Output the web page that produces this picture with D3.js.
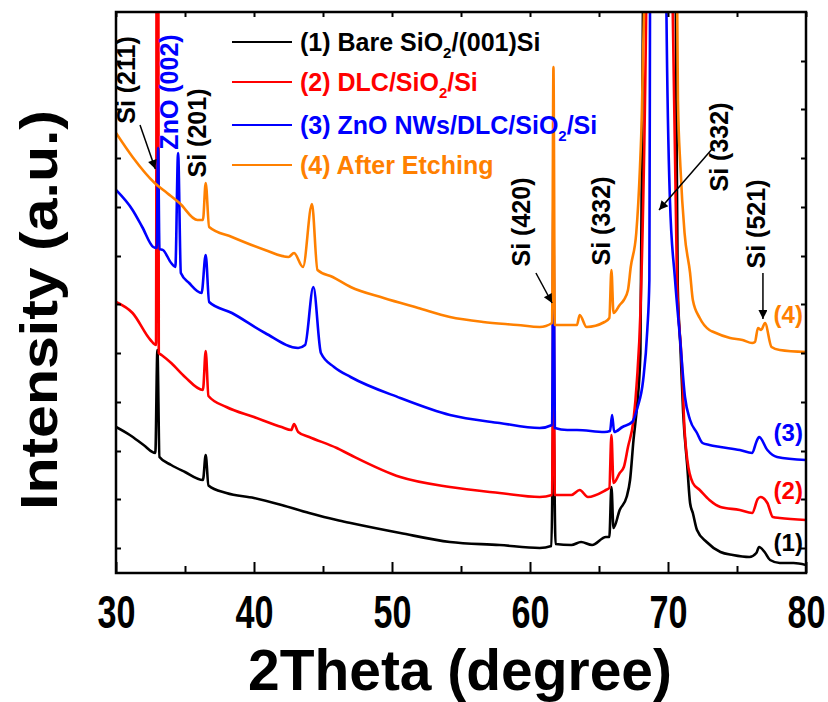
<!DOCTYPE html>
<html lang="en">
<head>
<meta charset="UTF-8" />
<title>XRD patterns</title>
<script src="https://d3js.org/d3.v7.min.js"></script>
<style>
    body { margin: 0; background: #fff; }
    text { font-family: "Liberation Sans", Arial, sans-serif; font-weight: bold; }
    .tick line { stroke: #000; stroke-width: 2px; }
    .trace { fill: none; stroke-width: 2.6px; stroke-linejoin: round; }
</style>
</head>
<body>
<script>
    // ---- data: [2theta, intensity (a.u.)] ----
    const bare = [
        [30,292],[31,276],[32,256],[32.85,240],[33,446],[33.15,232],[34,216],[35,202],[36.3,186],[36.5,236],[36.7,175],
        [38,160],[40,150],[42,136],[44,120],[46,106],[47,100],[50.6,80],[54.2,62],[57.8,56],[60.7,50],[61.55,54],[61.7,306],
        [61.85,58],[63,56],[63.7,62],[64.5,56],[65.5,72],[65.75,72],[65.9,172],[66.05,90],[66.5,126],[67,152],[67.25,186],
        [67.5,266],[67.75,332],[68,440],[68.2,1200],[69.3,6000],[70.55,1200],[70.7,580],[70.9,452],[71.1,320],[71.4,212],
        [71.6,140],[71.8,120],[72.1,86],[72.8,62],[73.8,42],[74.7,36],[75.9,32],[76.4,40],[76.6,52],[77,42],[77.4,26],
        [78.1,20],[79.1,20],[80,16]
    ];
    const dlc = [
        [30,542],[31.2,520],[32.5,466],[32.9,456],[33,3000],[33.1,440],[33.3,436],[34,420],[35,392],[36.3,366],[36.5,444],
        [36.7,354],[38,332],[40,312],[42,292],[42.7,286],[42.9,298],[43.2,282],[44,272],[46,250],[47,236],[50.6,192],
        [54.2,172],[57.8,160],[60.7,152],[61.6,156],[61.7,646],[61.8,156],[63,156],[63.6,166],[64.2,152],[65.5,166],
        [65.75,170],[65.9,276],[66.05,180],[66.5,200],[66.8,212],[67.1,252],[67.5,306],[67.75,386],[68,520],[68.45,1200],
        [69.4,6000],[70.3,1200],[70.65,586],[71,420],[71.2,286],[71.4,226],[71.8,180],[72.3,166],[73,146],[73.8,132],
        [75.2,126],[76.1,120],[76.5,148],[76.7,152],[77.2,140],[77.6,112],[78.1,110],[80,106]
    ];
    const znoNws = [
        [30,766],[31.2,726],[31.9,692],[32.7,652],[32.95,650],[33.05,850],[33.15,648],[33.4,646],[34,620],[34.3,612],
        [34.5,840],[34.7,600],[35.3,580],[36.2,560],[36.5,636],[36.75,542],[38.4,520],[40.8,480],[43.2,450],[43.7,456],
        [44.3,572],[44.85,440],[45.8,412],[47,392],[50.6,350],[54.2,316],[57.8,300],[60.7,290],[61.6,296],[61.7,746],
        [61.8,290],[62.7,286],[63.4,286],[65.4,282],[65.8,284],[65.95,316],[66.1,282],[66.7,292],[67.4,302],[67.8,332],
        [68.2,386],[68.5,486],[68.65,586],[68.7,1200],[69.3,6000],[69.86,1200],[70.14,746],[70.5,590],[70.87,470],
        [71.23,352],[71.6,306],[72.1,280],[72.5,260],[73,256],[73.8,252],[75.2,246],[76.1,240],[76.4,262],[76.6,272],
        [77.2,246],[77.9,232],[80,226]
    ];
    const etched = [
        [30,880],[31.2,832],[32.8,780],[33.7,760],[34.6,740],[35.9,706],[36.3,706],[36.5,780],[36.75,692],[38.4,672],
        [40.8,646],[42.5,632],[42.9,640],[43.55,612],[44.2,738],[44.6,606],[45.7,592],[47,572],[49.4,550],[51.9,530],
        [54.2,512],[56.6,502],[59.1,496],[60.7,492],[61.6,500],[61.7,1012],[61.8,496],[62.7,496],[63.4,496],[63.6,516],
        [64.1,492],[65.4,502],[65.75,510],[65.9,606],[66.05,520],[66.5,536],[66.8,546],[67.1,566],[67.3,612],[67.7,680],
        [67.97,812],[68.1,912],[68.2,1046],[68.33,1200],[69.5,6000],[70.65,1200],[70.72,946],[70.9,812],[71.2,680],
        [71.6,600],[71.8,546],[72.3,510],[73,486],[73.3,482],[74.5,470],[75.4,466],[76.1,460],[76.3,462],[76.52,490],
        [76.75,486],[77.03,500],[77.5,452],[78.1,446],[80,442]
    ];

    const seriesColors = ["#000000", "#ff0000", "#0000ff", "#ff8000"];
    const legendLabels = [
        ["(1) Bare SiO", "2", "/(001)Si"],
        ["(2) DLC/SiO", "2", "/Si"],
        ["(3) ZnO NWs/DLC/SiO", "2", "/Si"],
        ["(4) After Etching"]
    ];
    const endLabels = ["(1)", "(2)", "(3)", "(4)"];
    const endLabelY = [44, 148, 264, 500];

    // peak annotations: text, 2theta of baseline, intensity at text centre, colour
    const peakLabels = [
        ["Si (211)", 31.35, 986, "#000"],
        ["ZnO (002)", 34.47, 962, "#0000ff"],
        ["Si (201)", 36.5, 880, "#000"],
        ["Si (420)", 59.97, 702, "#000"],
        ["Si (332)", 65.77, 704, "#000"],
        ["Si (332)", 74.32, 852, "#000"],
        ["Si (521)", 77.0, 698, "#000"]
    ];
    const arrows = [
        [31.74, 896, 32.85, 808],
        [60.43, 600, 61.6, 540],
        [73.26, 850, 69.35, 726],
        [76.88, 600, 76.88, 508]
    ];

    const xMajor = [30, 40, 50, 60, 70, 80];
    const xMinor = [35, 45, 55, 65, 75];
    const yTickValues = [50, 148, 244, 342, 440, 538, 634, 732, 830, 928, 1024];

    // ---- layout ----
    const width = 828, height = 702;
    const margin = { top: 12, right: 22, bottom: 129, left: 116 };
    const plotW = width - margin.left - margin.right;
    const plotH = height - margin.top - margin.bottom;

    const x = d3.scaleLinear().domain([30, 80]).range([margin.left, margin.left + plotW]);
    const y = d3.scaleLinear().domain([0, 1122]).range([margin.top + plotH, margin.top]);

    const svg = d3.select("body").append("svg")
        .attr("width", width)
        .attr("height", height);

    const defs = svg.append("defs");
    defs.append("clipPath").attr("id", "plot-clip")
        .append("rect")
        .attr("x", margin.left).attr("y", margin.top)
        .attr("width", plotW).attr("height", plotH);
    defs.append("marker")
        .attr("id", "arrow")
        .attr("viewBox", "0 0 10 10")
        .attr("refX", 10).attr("refY", 5)
        .attr("markerWidth", 12).attr("markerHeight", 9)
        .attr("markerUnits", "userSpaceOnUse")
        .attr("orient", "auto")
        .append("path")
        .attr("d", "M0,0 L10,5 L0,10 z")
        .attr("fill", "#000");

    // ---- traces ----
    const line = d3.line()
        .x(d => x(d[0]))
        .y(d => y(d[1]))
        .curve(d3.curveMonotoneX);

    svg.append("g")
        .attr("clip-path", "url(#plot-clip)")
        .selectAll("path")
        .data([bare, dlc, znoNws, etched])
        .join("path")
        .attr("class", "trace")
        .attr("stroke", (d, i) => seriesColors[i])
        .attr("d", line);

    // ---- axes (ticks point inward) ----
    // tick labels: narrow, tall digits -> smaller font stretched vertically
    const bottomMajor = svg.append("g")
        .attr("transform", `translate(0,${margin.top + plotH})`)
        .call(d3.axisBottom(x).tickValues(xMajor).tickSize(-11).tickSizeOuter(0).tickFormat(d3.format("d")));
    bottomMajor.selectAll(".tick text")
        .attr("y", 55 / 1.3)
        .attr("dy", null)
        .attr("font-size", 36)
        .attr("textLength", 38)
        .attr("lengthAdjust", "spacingAndGlyphs")
        .attr("transform", "scale(1,1.3)")
        .attr("fill", "#000");

    svg.append("g")
        .attr("transform", `translate(0,${margin.top + plotH})`)
        .call(d3.axisBottom(x).tickValues(xMinor).tickSize(-7).tickSizeOuter(0).tickFormat(""));

    svg.append("g")
        .attr("transform", `translate(0,${margin.top})`)
        .call(d3.axisTop(x).tickValues(xMajor.concat(xMinor)).tickSize(-5).tickSizeOuter(0).tickFormat(""));

    svg.append("g")
        .attr("transform", `translate(${margin.left},0)`)
        .call(d3.axisLeft(y).tickValues(yTickValues).tickSize(-5).tickSizeOuter(0).tickFormat(""));

    svg.append("g")
        .attr("transform", `translate(${margin.left + plotW},0)`)
        .call(d3.axisRight(y).tickValues(yTickValues).tickSize(-5).tickSizeOuter(0).tickFormat(""));

    svg.selectAll(".domain").remove();

    svg.append("rect")
        .attr("x", margin.left).attr("y", margin.top)
        .attr("width", plotW).attr("height", plotH)
        .attr("fill", "none")
        .attr("stroke", "#000")
        .attr("stroke-width", 2.5);

    // ---- axis titles ----
    svg.append("text")
        .attr("x", 460).attr("y", 690)
        .attr("text-anchor", "middle")
        .attr("font-size", 58)
        .attr("textLength", 424)
        .attr("lengthAdjust", "spacingAndGlyphs")
        .text("2Theta (degree)");

    svg.append("text")
        .attr("transform", "translate(57,310) rotate(-90)")
        .attr("text-anchor", "middle")
        .attr("font-size", 52)
        .attr("textLength", 400)
        .attr("lengthAdjust", "spacingAndGlyphs")
        .text("Intensity (a.u.)");

    // ---- legend ----
    const legendY = [42, 82, 125, 165];
    const legend = svg.append("g");
    legendLabels.forEach((parts, i) => {
        legend.append("line")
            .attr("x1", 232).attr("x2", 292)
            .attr("y1", legendY[i]).attr("y2", legendY[i])
            .attr("stroke", seriesColors[i])
            .attr("stroke-width", 2);
        const t = legend.append("text")
            .attr("x", 300).attr("y", legendY[i] + 8.5)
            .attr("font-size", 25)
            .attr("fill", seriesColors[i]);
        t.append("tspan").text(parts[0]);
        if (parts.length > 1) {
            t.append("tspan").attr("font-size", 15).attr("dy", 7).text(parts[1]);
            t.append("tspan").attr("font-size", 25).attr("dy", -7).text(parts[2]);
        }
    });

    // ---- labels at right end of each trace ----
    svg.append("g").selectAll("text")
        .data(endLabels)
        .join("text")
        .attr("x", x(77.65))
        .attr("y", (d, i) => y(endLabelY[i]))
        .attr("font-size", 24)
        .attr("fill", (d, i) => seriesColors[i])
        .text(d => d);

    // ---- peak annotations ----
    svg.append("g").selectAll("text")
        .data(peakLabels)
        .join("text")
        .attr("transform", d => `translate(${x(d[1])},${y(d[2])}) rotate(-90)`)
        .attr("text-anchor", "middle")
        .attr("font-size", 25)
        .attr("fill", d => d[3])
        .text(d => d[0]);

    svg.append("g").selectAll("line")
        .data(arrows)
        .join("line")
        .attr("x1", d => x(d[0])).attr("y1", d => y(d[1]))
        .attr("x2", d => x(d[2])).attr("y2", d => y(d[3]))
        .attr("stroke", "#000")
        .attr("stroke-width", 1.5)
        .attr("marker-end", "url(#arrow)");
</script>
</body>
</html>
